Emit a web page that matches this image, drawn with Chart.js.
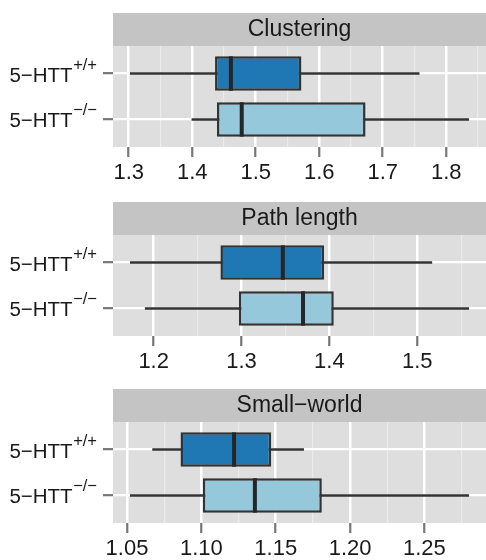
<!DOCTYPE html>
<html><head><meta charset="utf-8">
<script src="https://cdn.jsdelivr.net/npm/chart.js@4/dist/chart.umd.min.js"></script>
<style>
html,body{margin:0;padding:0;background:#fff;overflow:hidden;width:486px;height:560px}
canvas{position:absolute;left:0}
</style></head><body>
<canvas id="c1" width="486" height="187" style="top:0px"></canvas>
<canvas id="c2" width="486" height="187" style="top:189px"></canvas>
<canvas id="c3" width="486" height="187" style="top:376px"></canvas>
<script>
// genotype labels (base text + superscript)
const genotypeBase = ['5−HTT', '5−HTT'];
const genotypeSup  = ['+/+', '−/−'];
const panelTitles  = ['Clustering', 'Path length', 'Small−world'];

// Clustering
const clusteringLow    = [1.302, 1.399];
const clusteringQ1     = [1.436, 1.439];
const clusteringMedian = [1.461, 1.478];
const clusteringQ3     = [1.572, 1.673];
const clusteringHigh   = [1.758, 1.836];
const clusteringTicks  = [1.3, 1.4, 1.5, 1.6, 1.7, 1.8];
const clusteringTickLabels = ['1.3', '1.4', '1.5', '1.6', '1.7', '1.8'];

// Path length
const pathLow    = [1.173, 1.190];
const pathQ1     = [1.276, 1.297];
const pathMedian = [1.347, 1.370];
const pathQ3     = [1.394, 1.405];
const pathHigh   = [1.517, 1.559];
const pathTicks  = [1.2, 1.3, 1.4, 1.5];
const pathTickLabels = ['1.2', '1.3', '1.4', '1.5'];

// Small-world
const smallLow    = [1.067, 1.052];
const smallQ1     = [1.086, 1.101];
const smallMedian = [1.122, 1.136];
const smallQ3     = [1.147, 1.181];
const smallHigh   = [1.169, 1.280];
const smallTicks  = [1.05, 1.10, 1.15, 1.20, 1.25];
const smallTickLabels = ['1.05', '1.10', '1.15', '1.20', '1.25'];

const boxColors = ['#1F78B4', '#96C8DC'];
const FONT = '"Liberation Sans", Arial, Helvetica, sans-serif';

const facetPlugin = {
  id: 'facet',
  beforeDraw(chart, args, opts) {
    const {ctx, chartArea: a} = chart;
    ctx.save();
    ctx.fillStyle = '#DEDEDE';
    ctx.fillRect(a.left, a.top, a.right - a.left, a.bottom - a.top);
    ctx.fillStyle = '#C4C4C4';
    ctx.fillRect(a.left, a.top - 33, a.right - a.left, 33);
    ctx.fillStyle = '#1a1a1a';
    ctx.font = '23px ' + FONT;
    ctx.textAlign = 'center';
    ctx.textBaseline = 'middle';
    ctx.fillText(opts.title, (a.left + a.right) / 2, a.top - 16.5);
    ctx.restore();
  },
  afterDatasetsDraw(chart, args, opts) {
    const {ctx} = chart;
    const xs = chart.scales.x;
    const meta = chart.getDatasetMeta(0);
    ctx.save();
    ctx.fillStyle = '#262626';
    meta.data.forEach((el, i) => {
      const x = xs.getPixelForValue(opts.medians[i]);
      const h = el.height;
      ctx.fillRect(x - 2, el.y - h / 2, 4, h);
    });
    ctx.restore();
  },
  afterDraw(chart, args, opts) {
    const {ctx} = chart;
    const ys = chart.scales.y;
    ctx.save();
    ctx.fillStyle = '#1a1a1a';
    ctx.textAlign = 'left';
    ctx.textBaseline = 'alphabetic';
    genotypeBase.forEach((base, i) => {
      const y = ys.getPixelForValue(i + 1);
      const sup = genotypeSup[i];
      ctx.font = '16.5px ' + FONT;
      const sw = ctx.measureText(sup).width;
      ctx.font = '20.5px ' + FONT;
      const mw = ctx.measureText(base).width;
      const right = 97;
      const x0 = right - sw - mw - 0.5;
      ctx.fillText(base, x0, y + 8);
      ctx.font = '16.5px ' + FONT;
      ctx.fillText(sup, x0 + mw + 0.5, y - 4);
    });
    ctx.restore();
  }
};

function makePanel(id, title, low, q1, med, q3, high, ticks, tickLabels) {
  const dmin = Math.min(...low), dmax = Math.max(...high);
  const pad = (dmax - dmin) * 0.05;
  const xmin = dmin - pad, xmax = dmax + pad;
  const step = ticks[1] - ticks[0];
  const minor = [];
  for (let i = -1; i < ticks.length; i++) {
    const v = (i < 0 ? ticks[0] - step / 2 : ticks[i] + step / 2);
    if (v > xmin && v < xmax) minor.push(v);
  }
  const isMajor = v => ticks.some(t => Math.abs(t - v) < 1e-9);
  const allTicks = ticks.concat(minor).sort((a, b) => a - b);

  new Chart(document.getElementById(id), {
    type: 'bar',
    data: {
      datasets: [
        {
          label: 'box',
          data: q1.map((v, i) => ({x: [v, q3[i]], y: i + 1})),
          backgroundColor: boxColors,
          borderColor: '#333333',
          borderWidth: 2.5,
          borderSkipped: false,
          grouped: false,
          barPercentage: 0.75,
          categoryPercentage: 1,
          order: 0
        },
        {
          label: 'whisker',
          data: low.map((v, i) => ({x: [v, high[i]], y: i + 1})),
          backgroundColor: '#333333',
          borderWidth: 0,
          grouped: false,
          barPercentage: 0.75,
          categoryPercentage: 1,
          maxBarThickness: 2.4,
          order: 1
        }
      ]
    },
    options: {
      indexAxis: 'y',
      responsive: false,
      animation: false,
      devicePixelRatio: 1,
      events: [],
      layout: {padding: {top: 46, right: 0, left: 0, bottom: 0}},
      plugins: {
        legend: {display: false},
        tooltip: {enabled: false},
        facet: {title: title, medians: med}
      },
      scales: {
        x: {
          type: 'linear',
          min: xmin, max: xmax,
          afterBuildTicks: s => { s.ticks = allTicks.map(v => ({value: v})); },
          afterFit: s => { s.height = 40; },
          border: {display: false},
          grid: {
            color: c => isMajor(c.tick.value) ? '#FFFFFF' : '#EBEBEB',
            lineWidth: c => isMajor(c.tick.value) ? 2.5 : 1.2,
            tickColor: c => isMajor(c.tick.value) ? '#777777' : 'rgba(0,0,0,0)',
            tickWidth: 2.2,
            tickLength: 10
          },
          ticks: {
            autoSkip: false, maxRotation: 0, minRotation: 0,
            padding: 3,
            color: '#1a1a1a',
            font: {family: FONT, size: 22},
            callback: v => { const i = ticks.findIndex(t => Math.abs(t - v) < 1e-9); return i >= 0 ? tickLabels[i] : ''; }
          }
        },
        y: {
          type: 'linear',
          reverse: true,
          offset: false,
          min: 0.4, max: 2.6,
          afterBuildTicks: s => { s.ticks = [{value: 1}, {value: 2}]; },
          afterFit: s => { s.width = 113; },
          border: {display: false},
          grid: {
            offset: false,
            color: '#FFFFFF',
            lineWidth: 2.3,
            tickColor: '#777777',
            tickWidth: 2.2,
            tickLength: 10
          },
          ticks: {callback: () => '', font: {family: FONT, size: 20}}
        }
      }
    },
    plugins: [facetPlugin]
  });
}

makePanel('c1', panelTitles[0], clusteringLow, clusteringQ1, clusteringMedian, clusteringQ3, clusteringHigh, clusteringTicks, clusteringTickLabels);
makePanel('c2', panelTitles[1], pathLow, pathQ1, pathMedian, pathQ3, pathHigh, pathTicks, pathTickLabels);
makePanel('c3', panelTitles[2], smallLow, smallQ1, smallMedian, smallQ3, smallHigh, smallTicks, smallTickLabels);
</script>
</body></html>
